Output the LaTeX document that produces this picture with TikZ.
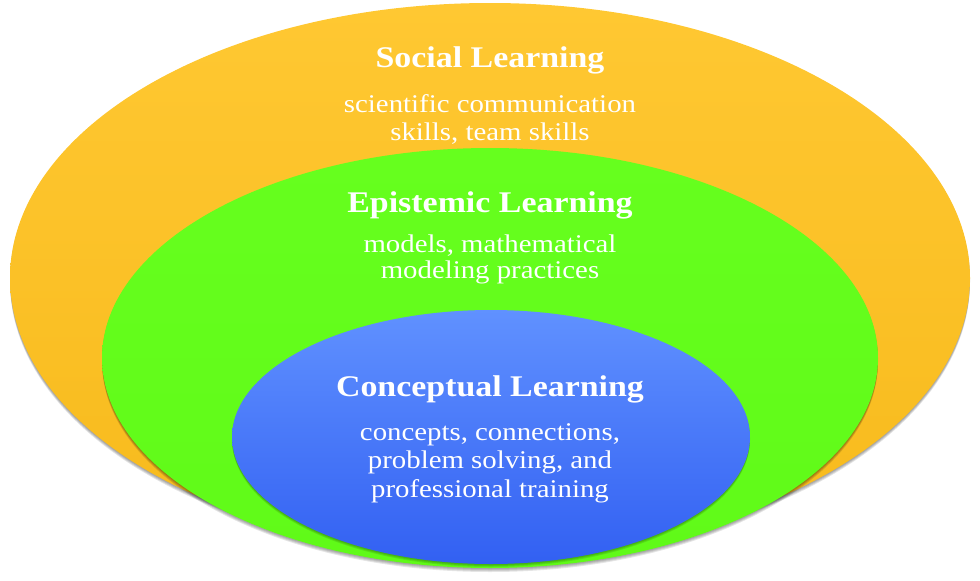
\documentclass[tikz,border=0pt]{standalone}
\usepackage{fontspec}
\setmainfont{Liberation Serif}[FakeStretch=1.13]
\usetikzlibrary{shapes.geometric}
\definecolor{orangeTop}{RGB}{255,200,50}
\definecolor{orangeBot}{RGB}{247,186,28}
\definecolor{greenTop}{RGB}{102,255,30}
\definecolor{greenBot}{RGB}{96,250,24}
\definecolor{blueTop}{RGB}{96,145,255}
\definecolor{blueBot}{RGB}{50,96,242}
\begin{document}
\begin{tikzpicture}[x=1pt,y=-1pt,
  titletext/.style={text=white,anchor=base,inner sep=0pt,font=\bfseries\fontsize{30}{36}\selectfont},
  subtext/.style={text=white,anchor=base,inner sep=0pt,font=\fontsize{25.5}{28}\selectfont},
  layershadow/.style={fill=black,opacity=0.10}]
\useasboundingbox (0,0) rectangle (980,581);
% outer (social)
\foreach \d in {1,2,3,4}{\fill[layershadow] (490,278+\d) ellipse [x radius=480, y radius=275];}
\shade[top color=orangeTop,bottom color=orangeBot] (490,278) ellipse [x radius=480, y radius=275];
% middle (epistemic)
\foreach \d in {1,2,3,4}{\fill[layershadow] (490,358+\d) ellipse [x radius=388, y radius=210];}
\shade[top color=greenTop,bottom color=greenBot] (490,358) ellipse [x radius=388, y radius=210];
% inner (conceptual)
\foreach \d in {1,2,3}{\fill[layershadow] (491,437+\d) ellipse [x radius=259, y radius=127];}
\shade[top color=blueTop,bottom color=blueBot] (491,437) ellipse [x radius=259, y radius=127];
% texts
\node[titletext] (soc) at (490,67) {Social Learning};
\node[subtext] (soc1) at (490,112) {scientific communication};
\node[subtext] (soc2) at (490,140) {skills, team skills};
\node[titletext] (epi) at (490,212) {Epistemic Learning};
\node[subtext] (epi1) at (490,252) {models, mathematical};
\node[subtext] (epi2) at (490,278) {modeling practices};
\node[titletext] (con) at (490,396) {Conceptual Learning};
\node[subtext] (con1) at (490,440) {concepts, connections,};
\node[subtext] (con2) at (490,468) {problem solving, and};
\node[subtext] (con3) at (490,497) {professional training};
\end{tikzpicture}
\end{document}
